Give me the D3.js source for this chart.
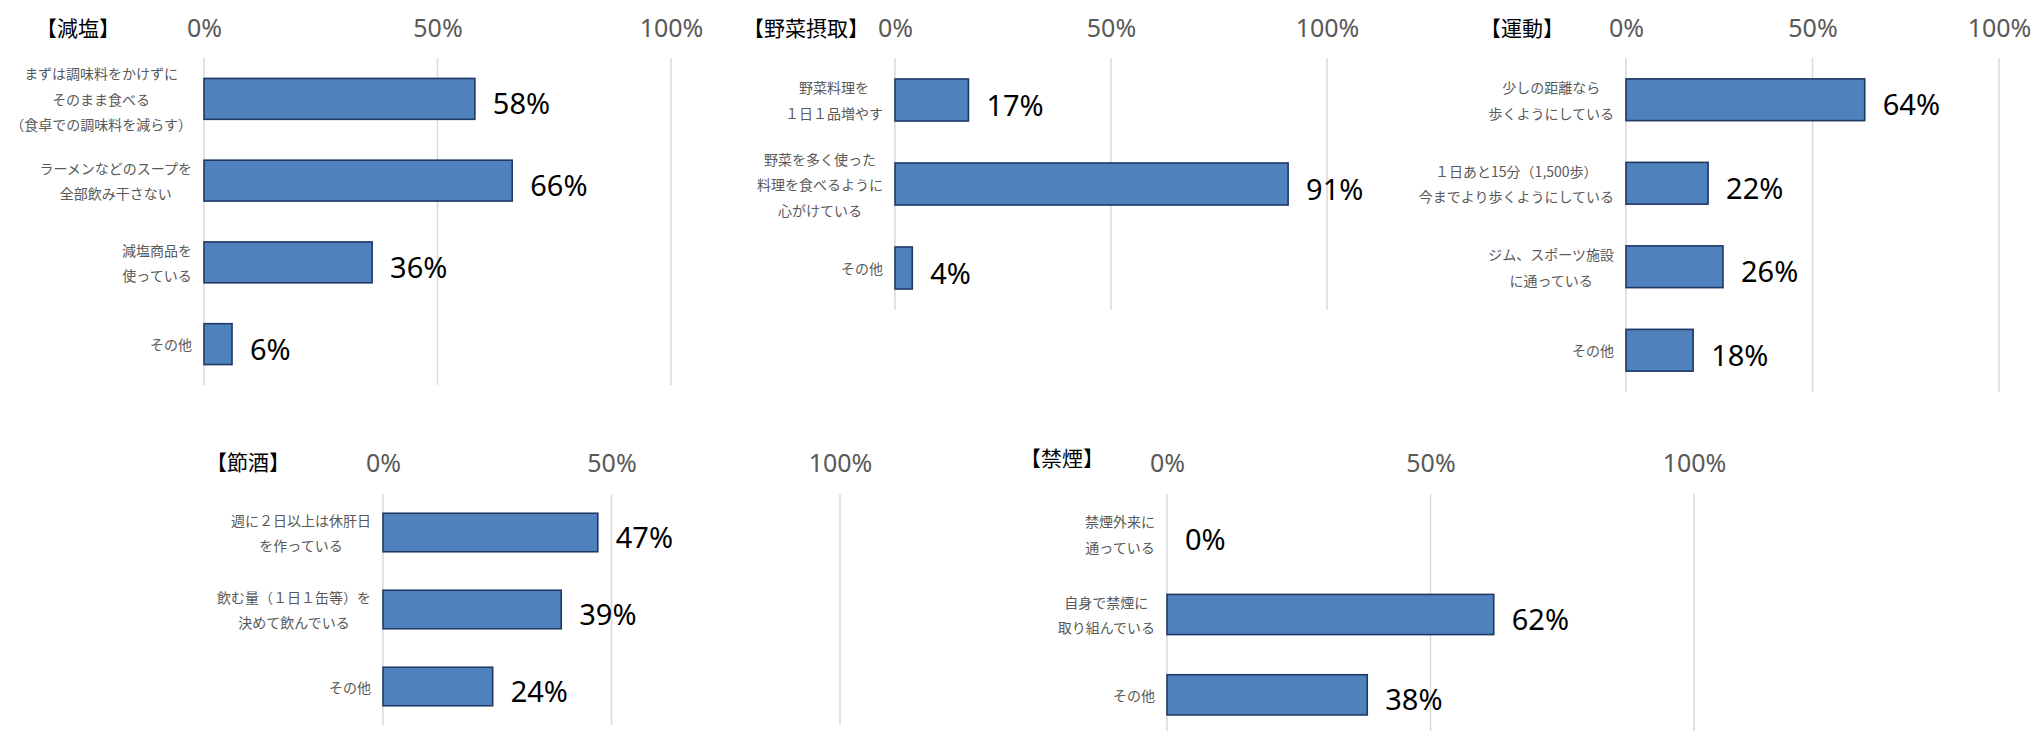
<!DOCTYPE html>
<html>
<head>
<meta charset="utf-8">
<script src="https://cdn.jsdelivr.net/npm/d3@7"></script>
<style>
  html, body { margin: 0; padding: 0; background: #ffffff; }
  svg { display: block; }
</style>
</head>
<body>
<svg id="chart" width="2036" height="731"></svg>
<script>
// ---- data ----
const tickValues = [0, 50, 100];

const genenTitle = "【減塩】";
const genenCategories = [
  "まずは調味料をかけずに\nそのまま食べる\n（食卓での調味料を減らす）",
  "ラーメンなどのスープを\n全部飲み干さない",
  "減塩商品を\n使っている",
  "その他"
];
const genenValues = [58, 66, 36, 6];

const yasaiTitle = "【野菜摂取】";
const yasaiCategories = [
  "野菜料理を\n１日１品増やす",
  "野菜を多く使った\n料理を食べるように\n心がけている",
  "その他"
];
const yasaiValues = [17, 91, 4];

const undoTitle = "【運動】";
const undoCategories = [
  "少しの距離なら\n歩くようにしている",
  "１日あと15分（1,500歩）\n今までより歩くようにしている",
  "ジム、スポーツ施設\nに通っている",
  "その他"
];
const undoValues = [64, 22, 26, 18];

const sesshuTitle = "【節酒】";
const sesshuCategories = [
  "週に２日以上は休肝日\nを作っている",
  "飲む量（１日１缶等）を\n決めて飲んでいる",
  "その他"
];
const sesshuValues = [47, 39, 24];

const kinenTitle = "【禁煙】";
const kinenCategories = [
  "禁煙外来に\n通っている",
  "自身で禁煙に\n取り組んでいる",
  "その他"
];
const kinenValues = [0, 62, 38];

// ---- layout ----
const panels = [
  { title: genenTitle, cats: genenCategories, vals: genenValues,
    x0: 204, x1: 671, top: 58, bottom: 385, tickY: 28, titleX: 78, titleY: 27 },
  { title: yasaiTitle, cats: yasaiCategories, vals: yasaiValues,
    x0: 895, x1: 1327, top: 58, bottom: 310, tickY: 28, titleX: 806, titleY: 27 },
  { title: undoTitle, cats: undoCategories, vals: undoValues,
    x0: 1626, x1: 1999, top: 58, bottom: 392, tickY: 28, titleX: 1522, titleY: 27 },
  { title: sesshuTitle, cats: sesshuCategories, vals: sesshuValues,
    x0: 383, x1: 840, top: 494, bottom: 725, tickY: 463, titleX: 248, titleY: 461 },
  { title: kinenTitle, cats: kinenCategories, vals: kinenValues,
    x0: 1167, x1: 1694, top: 494, bottom: 735, tickY: 463, titleX: 1062, titleY: 457 }
];

const svg = d3.select("#chart");
const cjk = "'Noto Sans CJK JP', 'Noto Sans', sans-serif";
const num = "'Noto Sans', 'Noto Sans CJK JP', sans-serif";

panels.forEach(p => {
  const g = svg.append("g");
  const x = d3.scaleLinear().domain([0, 100]).range([p.x0, p.x1]);
  const y = d3.scaleBand().domain(p.cats.map((c, i) => i))
    .range([p.top, p.bottom]).paddingInner(0.5).paddingOuter(0.25);

  // gridlines
  g.selectAll("line.grid").data(tickValues).enter().append("line")
    .attr("class", "grid")
    .attr("x1", d => x(d)).attr("x2", d => x(d))
    .attr("y1", p.top).attr("y2", p.bottom)
    .attr("stroke", "#d9d9d9").attr("stroke-width", 1.5);

  // tick labels (top axis)
  const axis = d3.axisTop(x).tickValues(tickValues).tickSize(0).tickPadding(0)
    .tickFormat(d => d + "%");
  const ax = g.append("g").attr("transform", `translate(0,${p.tickY})`).call(axis);
  ax.select(".domain").remove();
  ax.selectAll("text")
    .attr("y", 0).attr("dy", "0.35em")
    .attr("font-family", num).attr("font-size", 25)
    .attr("fill", "#595959");

  // title
  g.append("text").attr("x", p.titleX).attr("y", p.titleY)
    .attr("text-anchor", "middle").attr("dominant-baseline", "central")
    .attr("font-family", cjk).attr("font-size", 21).attr("fill", "#000")
    .text(p.title);

  // bars
  g.selectAll("rect.bar").data(p.vals).enter().append("rect")
    .attr("class", "bar")
    .attr("x", x(0))
    .attr("y", (d, i) => y(i))
    .attr("width", d => x(d) - x(0))
    .attr("height", y.bandwidth())
    .attr("fill", "#4f81bd")
    .attr("stroke", "#1f3864").attr("stroke-width", 1.6);

  // value labels
  g.selectAll("text.val").data(p.vals).enter().append("text")
    .attr("class", "val")
    .attr("x", d => x(d) + 18)
    .attr("y", (d, i) => y(i) + y.bandwidth() / 2 + 4)
    .attr("dominant-baseline", "central")
    .attr("font-family", num).attr("font-size", 29).attr("fill", "#000")
    .text(d => d + "%");

  // category labels (multi-line, centred block, right-aligned to axis)
  const lineH = 25.5;
  const rightEdge = x(0) - 12;
  p.cats.forEach((c, i) => {
    const lines = c.split("\n");
    const t = g.append("text")
      .attr("font-family", cjk).attr("font-size", 14).attr("fill", "#595959")
      .attr("text-anchor", "middle");
    const cy = y(i) + y.bandwidth() / 2;
    const spans = lines.map((ln, k) => t.append("tspan")
      .attr("y", cy + (k - (lines.length - 1) / 2) * lineH)
      .attr("dominant-baseline", "central")
      .text(ln));
    let maxW = 0;
    spans.forEach(s => { maxW = Math.max(maxW, s.node().getComputedTextLength()); });
    spans.forEach(s => s.attr("x", rightEdge - maxW / 2));
  });
});
</script>
</body>
</html>
